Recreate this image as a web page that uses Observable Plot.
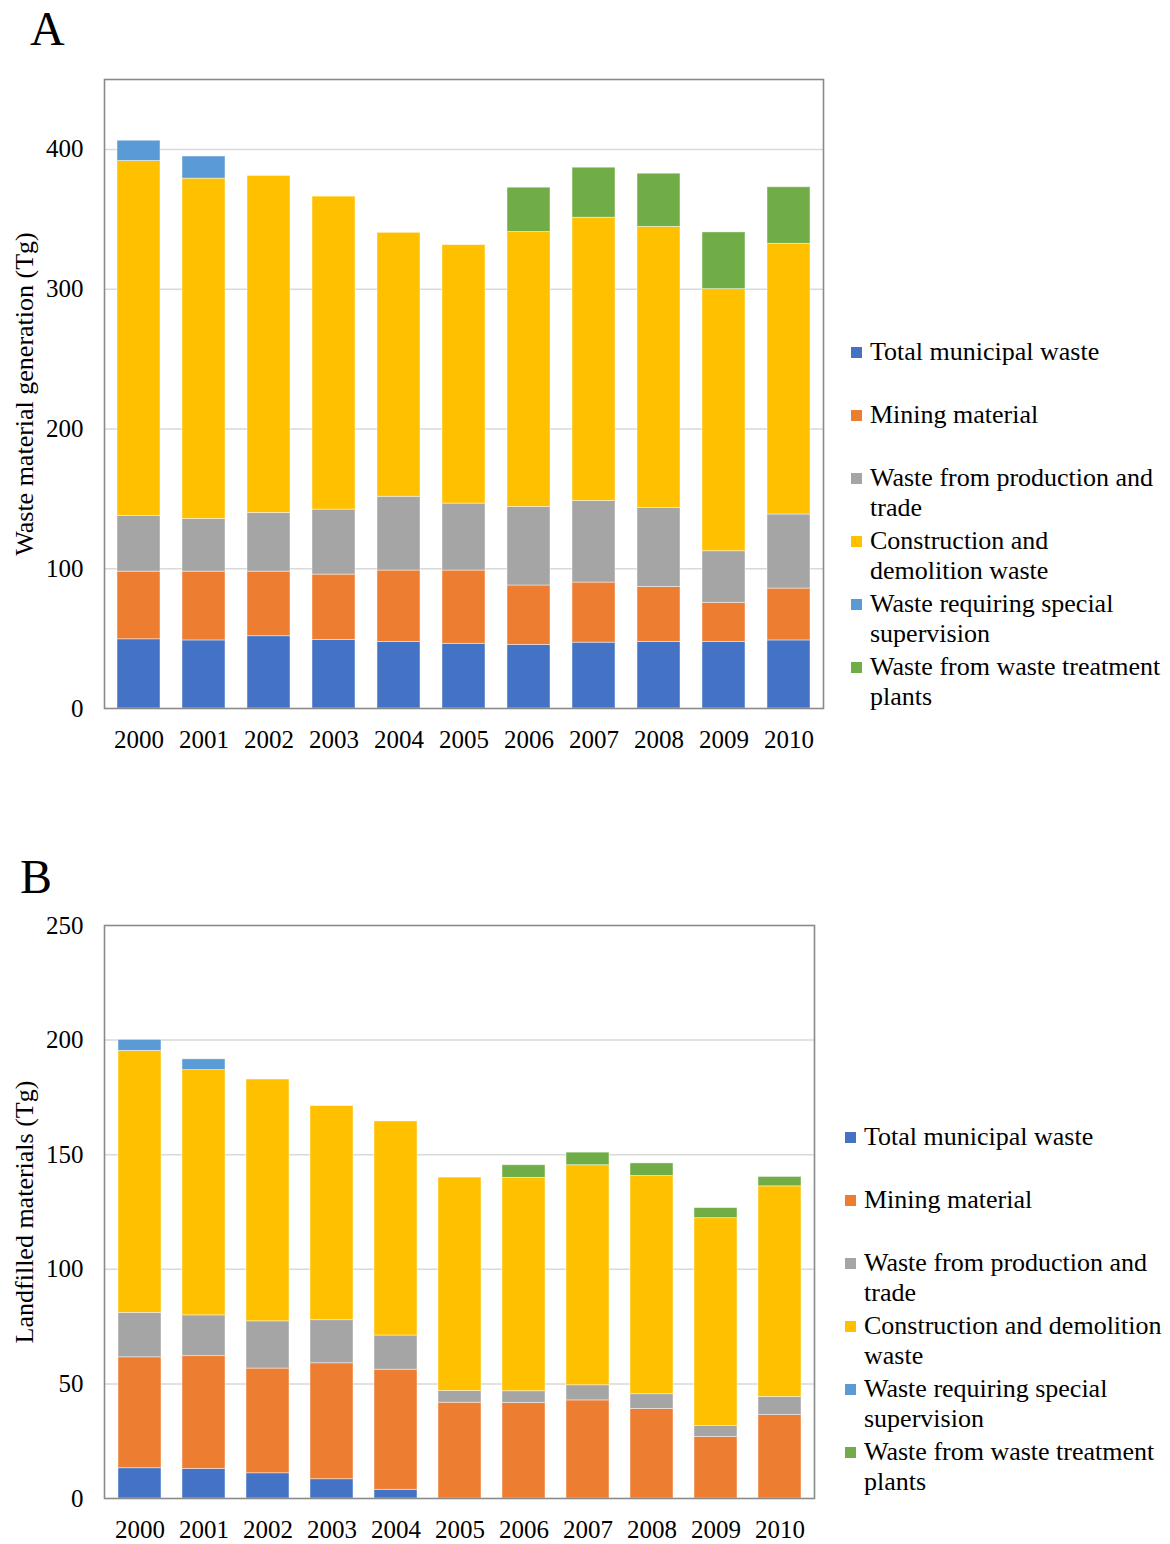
<!DOCTYPE html>
<html>
<head>
<meta charset="utf-8">
<script src="https://cdn.jsdelivr.net/npm/d3@7"></script>
<script src="https://cdn.jsdelivr.net/npm/@observablehq/plot@0.6"></script>
<style>
  html, body { margin: 0; padding: 0; background: #fff; }
  body { width: 1170px; height: 1544px; position: relative; overflow: hidden;
         font-family: "Liberation Serif", "Times New Roman", serif; color: #000; }
  .panel-letter { position: absolute; font-size: 48px; line-height: 1; }
  .chart { position: absolute; left: 0; }
  .legend { position: absolute; font-size: 26px; }
  .legend-item { position: relative; height: 63px; line-height: 30px; }
  .legend-swatch { position: absolute; width: 11px; height: 11px; top: 10px; }
  .legend-text { position: absolute; white-space: nowrap; }
</style>
</head>
<body>
<div class="panel-letter" style="left:30px; top:5px;">A</div>
<div class="panel-letter" style="left:20px; top:853px;">B</div>
<div id="chartA" class="chart" style="top:0px;"></div>
<div id="chartB" class="chart" style="top:850px;"></div>
<div id="legendA" class="legend" style="left:851px; top:337px;"></div>
<div id="legendB" class="legend" style="left:845px; top:1122px;"></div>
<script>
// Years on the x axis
const years = ["2000", "2001", "2002", "2003", "2004", "2005", "2006", "2007", "2008", "2009", "2010"];

// Waste streams, in stacking order (bottom to top)
const categories = [
  "Total municipal waste",
  "Mining material",
  "Waste from production and trade",
  "Construction and demolition waste",
  "Waste requiring special supervision",
  "Waste from waste treatment plants"
];
const colors = ["#4472C4", "#ED7D31", "#A5A5A5", "#FFC000", "#5B9BD5", "#70AD47"];

// Panel A: waste material generation (Tg)
const genMunicipal    = [49.5, 48.7, 51.7, 49.0, 47.6, 46.3, 45.5, 47.1, 47.6, 47.6, 48.7];
const genMining       = [48.4, 49.2, 46.2, 46.8, 51.1, 52.4, 42.5, 43.0, 39.3, 28.0, 37.1];
const genProduction   = [39.8, 37.7, 42.0, 46.5, 52.8, 47.9, 56.2, 58.4, 56.5, 36.9, 53.0];
const genConstruction = [254.0, 243.5, 241.1, 223.9, 188.8, 184.9, 196.7, 202.6, 201.2, 187.5, 193.7];
const genSpecial      = [14.5, 15.8, 0, 0, 0, 0, 0, 0, 0, 0, 0];
const genPlants       = [0, 0, 0, 0, 0, 0, 31.7, 35.8, 38.0, 40.6, 40.4];

// Panel B: landfilled materials (Tg)
const lfMunicipal    = [13.2, 12.9, 11.0, 8.4, 3.8, 0, 0, 0, 0, 0, 0];
const lfMining       = [48.4, 49.2, 45.7, 50.6, 52.4, 41.8, 41.7, 42.8, 39.1, 26.8, 36.4];
const lfProduction   = [19.4, 17.8, 20.6, 18.8, 14.9, 5.1, 5.1, 6.6, 6.4, 4.8, 7.9];
const lfConstruction = [114.3, 107.0, 105.5, 93.4, 93.4, 93.1, 93.1, 96.0, 95.2, 90.7, 91.9];
const lfSpecial      = [4.8, 4.7, 0, 0, 0, 0, 0, 0, 0, 0, 0];
const lfPlants       = [0, 0, 0, 0, 0, 0, 5.5, 5.5, 5.5, 4.4, 4.1];

// Axis ticks
const ticksA = [0, 100, 200, 300, 400];
const ticksB = [0, 50, 100, 150, 200, 250];

const FONT = '"Liberation Serif", "Times New Roman", serif';

function tidy(seriesList) {
  const rows = [];
  seriesList.forEach((values, i) => {
    values.forEach((v, j) => {
      if (v > 0) rows.push({year: years[j], category: categories[i], value: v});
    });
  });
  return rows;
}

function stackedChart({data, ticks, yMax, yLabel, width, height, margins, padding}) {
  return Plot.plot({
    width, height,
    marginTop: margins[0], marginRight: margins[1], marginBottom: margins[2], marginLeft: margins[3],
    style: {fontFamily: FONT, fontSize: "25px", color: "#000", background: "transparent", overflow: "visible"},
    x: {domain: years, paddingInner: padding, paddingOuter: padding / 2, label: null},
    y: {domain: [0, yMax], label: null},
    color: {domain: categories, range: colors},
    marks: [
      Plot.ruleY(ticks.filter(t => t > 0 && t < yMax), {stroke: "#d9d9d9", strokeWidth: 1.5}),
      Plot.barY(data, {
        x: "year", y: "value", fill: "category", order: categories,
        stroke: "#ffffff", strokeWidth: 0.8, strokeOpacity: 0.55
      }),
      Plot.frame({stroke: "#8a8a8a", strokeWidth: 1.6}),
      Plot.axisY({ticks, tickSize: 0, tickPadding: 21, fontSize: 25, label: null}),
      Plot.axisX({tickSize: 0, tickPadding: 22, fontSize: 25, label: null}),
      Plot.text([yLabel], {
        frameAnchor: "left", textAnchor: "middle", rotate: -90, dx: -80,
        fontSize: 26, fill: "#000", text: d => d
      })
    ]
  });
}

const dataA = tidy([genMunicipal, genMining, genProduction, genConstruction, genSpecial, genPlants]);
const dataB = tidy([lfMunicipal, lfMining, lfProduction, lfConstruction, lfSpecial, lfPlants]);

document.getElementById("chartA").append(stackedChart({
  data: dataA, ticks: ticksA, yMax: 450, yLabel: "Waste material generation (Tg)",
  width: 840, height: 770, margins: [79, 17, 62, 104], padding: 0.34
}));

document.getElementById("chartB").append(stackedChart({
  data: dataB, ticks: ticksB, yMax: 250, yLabel: "Landfilled materials (Tg)",
  width: 830, height: 694, margins: [75, 16, 46, 104], padding: 0.335
}));

// Legends: number of words kept on the first line of each entry
function legend(el, firstLineWords, textLeft) {
  categories.forEach((name, i) => {
    const item = document.createElement("div");
    item.className = "legend-item";
    const sw = document.createElement("div");
    sw.className = "legend-swatch";
    sw.style.background = colors[i];
    sw.style.left = "0px";
    const tx = document.createElement("div");
    tx.className = "legend-text";
    tx.style.left = textLeft + "px";
    const words = name.split(" ");
    const n = firstLineWords[i] || words.length;
    const l1 = document.createElement("div");
    l1.textContent = words.slice(0, n).join(" ");
    tx.append(l1);
    if (n < words.length) {
      const l2 = document.createElement("div");
      l2.textContent = words.slice(n).join(" ");
      tx.append(l2);
    }
    item.append(sw, tx);
    el.append(item);
  });
}
legend(document.getElementById("legendA"), [0, 0, 4, 2, 3, 4], 19);
legend(document.getElementById("legendB"), [0, 0, 4, 3, 3, 4], 19);
</script>
</body>
</html>
